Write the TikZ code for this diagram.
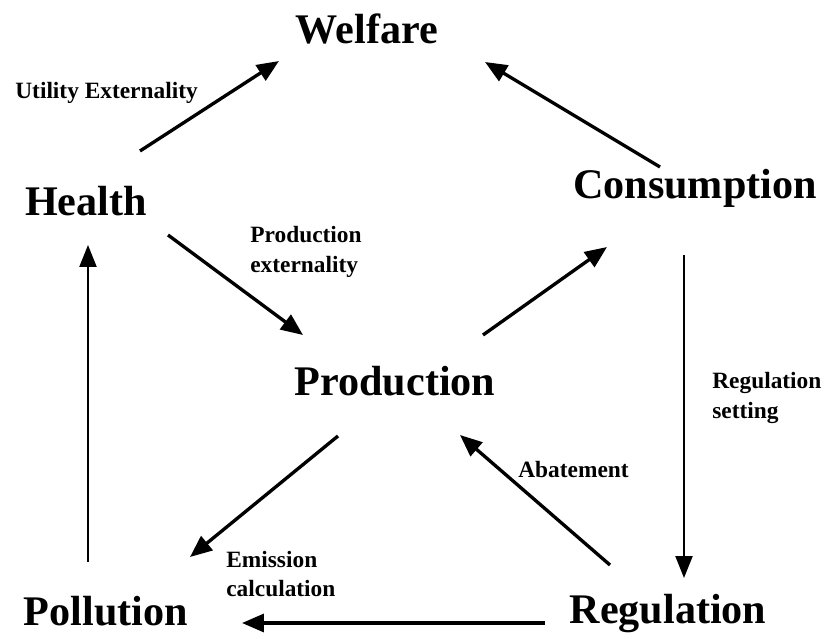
\documentclass[tikz,border=0pt]{standalone}
\usepackage{fontspec}
\setmainfont{Liberation Serif}
\usetikzlibrary{positioning,arrows.meta}

\begin{document}
\begin{tikzpicture}[x=0.02cm, y=-0.02cm,
    big/.style={anchor=base, inner sep=0pt, font=\fontsize{24}{28}\selectfont\bfseries},
    lbl/.style={anchor=west, inner sep=0pt, align=left, font=\fontsize{13.3}{17}\selectfont\bfseries},
    arrow/.style={-{Triangle[length=0.44cm, width=0.36cm]}, line width=1.9pt},
    vline/.style={-{Triangle[length=0.44cm, width=0.34cm]}, line width=1.3pt},
]
\useasboundingbox (0,0) rectangle (826,639);

% main blocks
\node[big] (welfare) at (367,43) {Welfare};
\node[big] (health) at (86,215) {Health};
\node[big] (cons) at (695,198) {Consumption};
\node[big] (prod) at (395,395) {Production};
\node[big] (poll) at (106,625) {Pollution};
\node[big] (reg) at (668,623) {Regulation};

% labels
\node[lbl] (util) at (15,93) {Utility Externality};
\node[lbl] (prodext) at (250,252) {Production\\externality};
\node[lbl] (regset) at (712,398) {Regulation\\setting};
\node[lbl] (abate) at (518,470) {Abatement};
\node[lbl] (emis) at (226,574) {Emission\\calculation};

% connectors
\draw[arrow] ([shift={(54,-64)}]health.base) -- ([shift={(-88,18)}]welfare.base);
\draw[arrow] ([shift={(-35,-31)}]cons.base) -- ([shift={(118,19)}]welfare.base);
\draw[arrow] ([shift={(82,20)}]health.base) -- ([shift={(-92,-60)}]prod.base);
\draw[arrow] ([shift={(88,-60)}]prod.base) -- ([shift={(-88,49)}]cons.base);
\draw[arrow] ([shift={(-57,41)}]prod.base) -- ([shift={(84,-68)}]poll.base);
\draw[arrow] ([shift={(-58,-58)}]reg.base) -- ([shift={(65,40)}]prod.base);
\draw[arrow] ([shift={(-123,0)}]reg.base) -- ([shift={(136,-2)}]poll.base);
\draw[vline] ([shift={(-18,-63)}]poll.base) -- ([shift={(2,30)}]health.base);
\draw[vline] ([shift={(-11,57)}]cons.base) -- ([shift={(16,-45)}]reg.base);
\end{tikzpicture}
\end{document}
